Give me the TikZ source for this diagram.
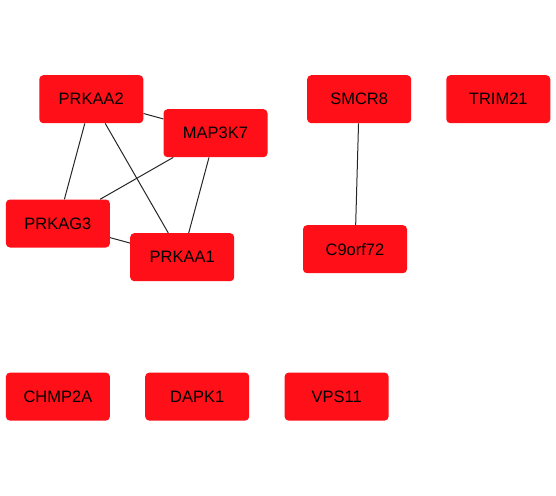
\documentclass[tikz,border=0pt]{standalone}
\usepackage{fontspec}
\setmainfont{Liberation Sans}
\begin{document}
\begin{tikzpicture}[x=1pt,y=-1pt,
  gene/.style={draw=none,fill=nodered,rounded corners=4pt,minimum width=104pt,minimum height=48pt,inner sep=0pt,font=\fontsize{16.5}{18}\selectfont,text=black},
  link/.style={draw=edgegray,line width=1pt}]
\definecolor{nodered}{HTML}{FF1018}
\definecolor{edgegray}{HTML}{262626}
\useasboundingbox (0,0) rectangle (556,495);
\node[gene] (PRKAA2) at (91.3,99.2) {PRKAA2};
\node[gene] (MAP3K7) at (215.5,133.2) {MAP3K7};
\node[gene] (PRKAG3) at (57.9,223.5) {PRKAG3};
\node[gene] (PRKAA1) at (182.2,257.2) {PRKAA1};
\node[gene] (SMCR8) at (359.2,99.2) {SMCR8};
\node[gene] (TRIM21) at (498.3,99.2) {TRIM21};
\node[gene] (C9orf72) at (355,249.2) {C9orf72};
\node[gene] (CHMP2A) at (57.9,396.6) {CHMP2A};
\node[gene] (DAPK1) at (197.2,396.6) {DAPK1};
\node[gene] (VPS11) at (336.6,396.6) {VPS11};
\draw[link] (PRKAA2) -- (MAP3K7);
\draw[link] (PRKAA2) -- (PRKAG3);
\draw[link] (PRKAA2) -- (PRKAA1);
\draw[link] (MAP3K7) -- (PRKAG3);
\draw[link] (MAP3K7) -- (PRKAA1);
\draw[link] (PRKAG3) -- (PRKAA1);
\draw[link] (SMCR8) -- (C9orf72);
\end{tikzpicture}
\end{document}
